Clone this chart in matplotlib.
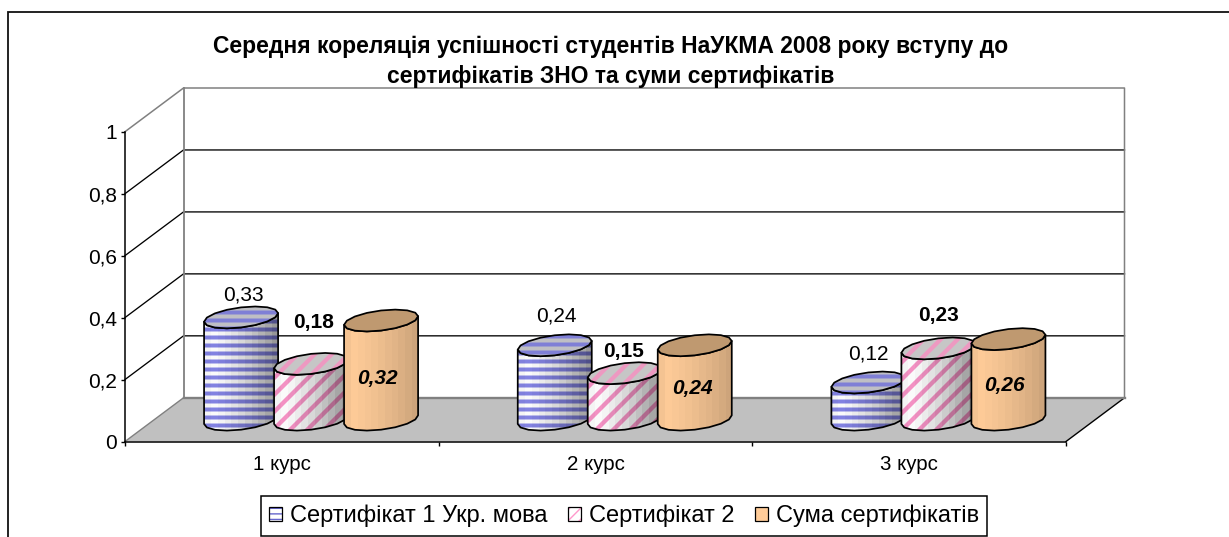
import numpy as np
import matplotlib
matplotlib.use("Agg")
import matplotlib.pyplot as plt
from matplotlib.lines import Line2D
from matplotlib.patches import Polygon, Patch
from matplotlib.legend_handler import HandlerTuple

plt.rcParams['font.family'] = ['Liberation Sans', 'DejaVu Sans']

title = "Середня кореляція успішності студентів НаУКМА 2008 року вступу до\nсертифікатів ЗНО та суми сертифікатів"
categories = ["1 курс", "2 курс", "3 курс"]
series_names = ["Сертифікат 1 Укр. мова", "Сертифікат 2", "Сума сертифікатів"]
cert1 = [0.33, 0.24, 0.12]
cert2 = [0.18, 0.15, 0.23]
total = [0.32, 0.24, 0.26]
y_ticks = [0, 0.2, 0.4, 0.6, 0.8, 1]
y_tick_labels = ["0", "0,2", "0,4", "0,6", "0,8", "1"]

W, H = 1229, 537
L, R, T, B = 125.0, 1066.0, 131.7, 441.5
OX, OY = 58.5, 43.7

fig = plt.figure(figsize=(W / 100, H / 100), dpi=100, facecolor="white")
ax = fig.add_axes([L / W, 1 - B / H, (R - L) / W, (B - T) / H])
ax.set_xlim(0, 3)
ax.set_ylim(0, 1)
ax.patch.set_visible(False)
ppx = (R - L) / 3
ppy = B - T
DX = OX / ppx
DY = OY / ppy


def proj(x, y, d):
    return x + d * DX, y + d * DY


fig.add_artist(Line2D([7.5 / W, 7.5 / W, 1], [0, 1 - 12 / H, 1 - 12 / H], transform=fig.transFigure,
                      color="#111111", lw=1.3, solid_joinstyle="miter"))

GRAY = "#808080"
floor = [proj(0, 0, 0), proj(3, 0, 0), proj(3, 0, 1), proj(0, 0, 1)]
ax.add_patch(Polygon(floor, closed=True, fc="#c0c0c0", ec="none", clip_on=False, zorder=1))
ax.plot(*zip(proj(3, 0, 0), proj(3, 0, 1)), color="black", lw=1.0, clip_on=False, zorder=1.5)
ax.plot(*zip(proj(0, 0, 0), proj(0, 0, 1)), color=GRAY, lw=1.0, clip_on=False, zorder=1.5)
ax.plot(*zip(proj(0, 0, 1), proj(3, 0, 1)), color=GRAY, lw=1.7, clip_on=False, zorder=1.5)
for v in y_ticks[1:-1]:
    ax.plot(*zip(proj(0, v, 0), proj(0, v, 1), proj(3, v, 1)), color="black", lw=0.95, clip_on=False, zorder=1)
ax.plot(*zip(proj(0, 1, 0), proj(0, 1, 1), proj(3, 1, 1), proj(3, 0, 1)),
        color=GRAY, lw=1.1, clip_on=False, zorder=1.2)
ax.plot(*zip(proj(0, 1, 1), proj(0, 0, 1)), color=GRAY, lw=1.3, clip_on=False, zorder=1.2)

ax.set_yticks(y_ticks)
ax.set_yticklabels(y_tick_labels, fontsize=15)
ax.set_xticks([0, 1, 2, 3])
ax.set_xticklabels([])
ax.set_xticks([0.5, 1.5, 2.5], minor=True)
ax.set_xticklabels(categories, minor=True, fontsize=14.8)
ax.tick_params(axis="x", which="minor", length=0, pad=10)
ax.tick_params(axis="x", which="major", length=3, width=1, direction="out")
ax.tick_params(axis="y", length=3, width=1, direction="out", pad=3)
for s in ("top", "right"):
    ax.spines[s].set_visible(False)
for s in ("left", "bottom"):
    ax.spines[s].set_linewidth(1.1)
    ax.spines[s].set_zorder(2)

STYLE = [
    dict(kind="h", fg=(0.52, 0.52, 0.90), k=0.46, top_bg=(0.75, 0.75, 0.77), top_fg=(0.50, 0.50, 0.84)),
    dict(kind="d", fg=(0.97, 0.58, 0.78), k=0.46, top_bg=(0.78, 0.78, 0.78), top_fg=(0.93, 0.60, 0.76)),
    dict(kind="s", fg=(1.00, 0.80, 0.60), k=0.22, top_bg=(0.75, 0.60, 0.44), top_fg=(0.75, 0.60, 0.44)),
]
A = 34 / ppx
RD = 0.25
GAP = 70 / ppx
tt = np.arctan2(RD * OX, A * ppx)
NSEG = 16


def pattern(kind, rows, cols):
    if kind == "h":
        return np.clip(0.5 + 0.75 * np.cos(2 * np.pi * rows / 8.0), 0, 1)
    if kind == "d":
        return np.clip(2.2 * np.cos(2 * np.pi * (rows + cols) / 17.0) - 0.45, 0, 1)
    return np.ones_like(rows, dtype=float)


def textured(poly_xy, style, top, z):
    poly = Polygon(poly_xy, closed=True, fc="none", ec="black", lw=1.25, clip_on=False, zorder=z + 0.1, joinstyle="round")
    ax.add_patch(poly)
    x0, x1 = poly_xy[:, 0].min(), poly_xy[:, 0].max()
    y0, y1 = poly_xy[:, 1].min(), poly_xy[:, 1].max()
    nc = max(int((x1 - x0) * ppx) + 1, 2)
    nr = max(int((y1 - y0) * ppy) + 1, 2)
    cols, rows = np.meshgrid(np.arange(nc) + round(x0 * ppx), np.arange(nr) + round(y0 * ppy))
    p = pattern(style["kind"], rows, -cols)[..., None]
    if top:
        rgb = np.array(style["top_bg"]) * (1 - p) + np.array(style["top_fg"]) * p
        if style["kind"] == "s":
            rgb = np.broadcast_to(np.array(style["top_bg"]), (nr, nc, 3)).copy()
    else:
        base = np.ones(3) if style["kind"] != "s" else np.array(style["fg"])
        rgb = base * (1 - p) + np.array(style["fg"]) * p
        if style["kind"] == "s":
            rgb = np.broadcast_to(base, (nr, nc, 3)).copy()
        u = np.linspace(0, 1, nc)
        u = np.floor(u * 11) / 11
        shade = 1 - style["k"] * u ** 1.4 - 0.04 * (u < 0.05)
        rgb = rgb * shade[None, :, None]
    im = ax.imshow(np.clip(rgb, 0, 1), extent=(x0, x1, y0, y1), origin="lower", aspect="auto",
                   interpolation="bilinear", zorder=z, clip_on=True)
    im.set_clip_path(poly)


def cylinder(cx, v, style, z):
    def pts(t, y):
        s = np.sin(t)
        return np.column_stack((cx + A * np.cos(t) + DX * (0.5 + RD * s), y + DY * (0.5 + RD * s)))
    arc = np.linspace(tt + np.pi, tt + 2 * np.pi, NSEG // 2 + 1)
    body = np.vstack((pts(arc, 0), pts(arc[::-1], v)))
    textured(body, style, False, z)
    textured(pts(tt + np.linspace(0, 2 * np.pi, NSEG, endpoint=False), v), style, True, z + 0.2)


series = [cert1, cert2, total]
for i in range(3):
    for j, vals in enumerate(series):
        cylinder(i + 0.5 + (j - 1) * GAP, vals[i], STYLE[j], 3 + i * 3 + j)
ax.set_xlim(0, 3)
ax.set_ylim(0, 1)

label_style = [dict(fontweight="normal"), dict(fontweight="bold"), dict(fontweight="bold", fontstyle="italic")]
label_offset = [
    [(2, 22), (2, 41), (-4, -57.5)],
    [(2, 29), (-1, 22), (-2, -43)],
    [(0, 28), (0, 33), (-4, -46)],
]
for i in range(3):
    for j, vals in enumerate(series):
        x, y = proj(i + 0.5 + (j - 1) * GAP, vals[i], 0.5)
        ox, oy = label_offset[i][j]
        ax.annotate(f"{vals[i]:.2f}".replace(".", ","), (x, y), xytext=(ox * 0.72, oy * 0.72),
                    textcoords="offset points", ha="center", va="center", fontsize=15, zorder=30,
                    annotation_clip=False, **label_style[j])

fig.text(611 / W, 1 - 61.5 / H, title, ha="center", va="center", fontsize=16.5, fontweight="bold", linespacing=1.44)

handles = [
    (Patch(fc="white", ec="#6666cc", hatch="---", lw=0), Patch(fc="none", ec="black", lw=0.9)),
    (Patch(fc="white", ec="#ff99cc", hatch="///", lw=0), Patch(fc="none", ec="black", lw=0.9)),
    (Patch(fc="#ffcc99", ec="black", lw=0.9),),
]
leg = fig.legend(handles, series_names, handler_map={tuple: HandlerTuple(ndivide=1, pad=0)},
                 loc="center", bbox_to_anchor=(624 / W, 1 - 516 / H), ncol=3, fontsize=17,
                 frameon=True, fancybox=False, edgecolor="black", framealpha=1,
                 handlelength=0.55, handleheight=0.55, handletextpad=0.34, columnspacing=0.85,
                 borderpad=0.35, borderaxespad=0)
leg.get_frame().set_linewidth(1.1)

fig.savefig("out.png", dpi=100, facecolor="white")
